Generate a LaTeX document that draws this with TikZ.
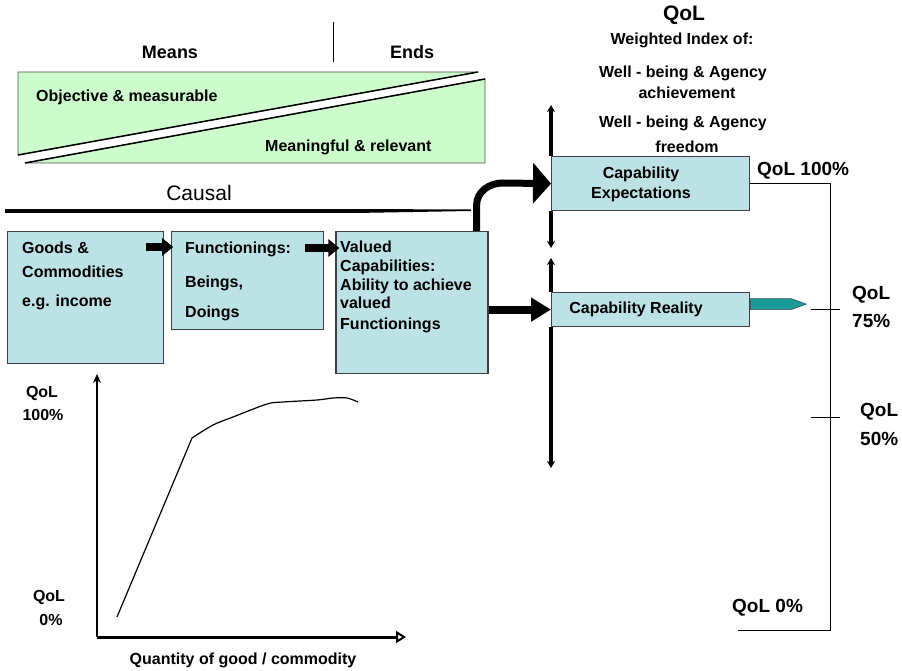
\documentclass[tikz,border=0pt]{standalone}
\usepackage{fontspec}
\setmainfont{Liberation Sans}
\usetikzlibrary{
    arrows.meta,
    calc,
    positioning
}
\definecolor{boxblue}{HTML}{BDE2E5}
\definecolor{meansgreen}{HTML}{CCFCCC}
\definecolor{tealarrow}{HTML}{189A96}

\begin{document}
\begin{tikzpicture}[x=1pt, y=-1pt,
    box/.style={draw=black!75, line width=1.2pt, fill=boxblue, inner sep=0pt, anchor=north west},
    lbl/.style={font=\bfseries\fontsize{16}{19}\selectfont, inner sep=0pt},
    head/.style={font=\bfseries\fontsize{18}{21}\selectfont, inner sep=0pt},
    qol/.style={font=\bfseries\fontsize{19}{22}\selectfont, inner sep=0pt},
    blockarrow/.style={line width=8pt, -{Triangle[length=11pt, width=17pt]}},
    vaxis/.style={line width=3.5pt, -{Stealth[length=7pt, width=8pt]}}
]
    \useasboundingbox (0, 0) rectangle (902, 671);

    \node[head] (means) at (170, 52) {Means};
    \node[head] (ends) at (412, 52) {Ends};
    \draw[line width=0.9pt] (333, 22) -- (333, 62);
    \filldraw[fill=meansgreen, draw=black!70, line width=0.8pt] (18, 72) -- (478, 72) -- (18, 155) -- cycle;
    \filldraw[fill=meansgreen, draw=black!70, line width=0.8pt] (25, 163) -- (485, 79) -- (485, 163) -- cycle;
    \draw[line width=1.5pt] (18, 155) -- (478, 72);
    \draw[line width=1.5pt] (25, 163) -- (485, 79);
    \node[lbl, anchor=west] (objective) at (36, 97) {Objective \& measurable};
    \node[lbl, anchor=west] (meaningful) at (265, 147) {Meaningful \& relevant};

    \node[font=\fontsize{21}{24}\selectfont, inner sep=0pt] (causal) at (199, 193) {Causal};
    \coordinate (causalstart) at (5, 211);
    \coordinate (causalmid) at (355, 211);
    \draw[line width=4pt] (causalstart) -- (causalmid);
    \fill (355, 209) -- (471, 209.5) -- (471, 211) -- (355, 213) -- cycle;

    \coordinate (expecttop) at (551, 105);
    \coordinate (expectbot) at (551, 248);
    \coordinate (realtop) at (551, 258);
    \coordinate (realbot) at (551, 468);

    \node[box, minimum width=156, minimum height=132] (goods) at (7, 231) {};
    \node[box, minimum width=152, minimum height=98, right=7pt of goods.north east, anchor=north west] (func) {};
    \node[box, minimum width=152, minimum height=142, right=11pt of func.north east, anchor=north west] (valued) {};
    \node[box, minimum width=198, minimum height=54] (expect) at (551, 156) {};
    \node[box, minimum width=198, minimum height=34] (reality) at (551, 292) {};

    \draw[vaxis] (expect.north west) -- (expecttop);
    \draw[vaxis] (expect.south west) -- (expectbot);
    \draw[vaxis] (reality.north west) -- (realtop);
    \draw[vaxis] (reality.south west) -- (realbot);

    \node[lbl, anchor=west] (goodsa) at (22, 248) {Goods \&};
    \node[lbl, anchor=west] (goodsb) at (22, 272) {Commodities};
    \node[lbl, anchor=west] (goodsc) at (22, 302) {e.g. income};
    \node[lbl, anchor=west] (funca) at (185, 249) {Functionings:};
    \node[lbl, anchor=west] (funcb) at (185, 283) {Beings,};
    \node[lbl, anchor=west] (funcc) at (185, 313) {Doings};
    \node[lbl, anchor=west] (valueda) at (340, 247) {Valued};
    \node[lbl, anchor=west] (valuedb) at (340, 267) {Capabilities:};
    \node[lbl, anchor=west] (valuedc) at (340, 286) {Ability to achieve};
    \node[lbl, anchor=west] (valuedd) at (340, 303) {valued};
    \node[lbl, anchor=west] (valuede) at (340, 325) {Functionings};
    \node[lbl] (expecta) at (641, 174) {Capability};
    \node[lbl] (expectb) at (641, 194) {Expectations};
    \node[lbl] (realitytxt) at (636, 309) {Capability Reality};

    \draw[blockarrow] ([xshift=-18pt, yshift=-16pt]goods.north east) -- ([xshift=2pt, yshift=-16pt]func.north west);
    \draw[blockarrow] ([xshift=-19pt, yshift=-17pt]func.north east) -- ([xshift=4pt, yshift=-17pt]valued.north west);
    \draw[line width=8pt, -{Triangle[length=20pt, width=23pt]}] (valued.east |- reality.west) -- (reality.west);
    \draw[line width=7pt, -{Triangle[length=18pt, width=40pt]}] ([xshift=-12pt]valued.north east) -- ++(0, -26) to[out=90, in=180] ++(26, -22) -- (expect.west);
    \filldraw[fill=tealarrow, draw=black!70, line width=0.6pt] ([yshift=11pt]reality.east) -- ++(41, 0) -- ++(15, 5.5) -- ++(-15, 5.5) -- ++(-41, 0) -- cycle;

    \node[font=\bfseries\fontsize{21}{24}\selectfont, inner sep=0pt] (qoltitle) at (684, 15) {QoL};
    \node[lbl] (weighted) at (682, 40) {Weighted Index of:};
    \node[lbl] (wellone) at (683, 73) {Well - being \& Agency};
    \node[lbl] (achieve) at (687, 93) {achievement};
    \node[lbl] (welltwo) at (683, 123) {Well - being \& Agency};
    \node[lbl] (freedom) at (687, 147) {freedom};

    \coordinate (bracket) at (830, 630);
    \draw[line width=1pt] (expect.east) -| (bracket) -- ++(-92, 0);
    \draw[line width=1pt] (811, 309) -- (840, 309);
    \draw[line width=1pt] (811, 417) -- (840, 417);
    \node[qol, anchor=west] (qolhundred) at (757, 171) {QoL 100\%};
    \node[qol, anchor=west] (qolsfa) at (852, 295) {QoL};
    \node[qol, anchor=west] (qolsfb) at (852, 321) {75\%};
    \node[qol, anchor=west] (qolfifa) at (860, 412) {QoL};
    \node[qol, anchor=west] (qolfifb) at (860, 439) {50\%};
    \node[qol, anchor=west] (qolzero) at (732, 608) {QoL 0\%};

    \coordinate (origin) at (97, 637);
    \coordinate (ytop) at (97, 374);
    \coordinate (xend) at (406, 637);
    \draw[line width=1.3pt, -{Stealth[length=9pt, width=8pt]}] (origin) -- (ytop);
    \draw[line width=3pt, -{Triangle[open, length=10pt, width=12pt, line width=2pt]}] (origin) -- (xend);
    \draw[line width=1.2pt] (117, 617) -- (192, 438) plot[smooth] coordinates {(192, 438) (213, 425) (233, 417) (267, 404) (283, 402) (317, 400) (333, 398) (347, 398) (358, 402)};
    \node[lbl] (graphqa) at (42, 393) {QoL};
    \node[lbl] (graphqb) at (43, 415) {100\%};
    \node[lbl] (graphqc) at (49, 597) {QoL};
    \node[lbl] (graphqd) at (51, 620) {0\%};
    \node[lbl] (quantity) at (243, 660) {Quantity of good / commodity};
\end{tikzpicture}
\end{document}
